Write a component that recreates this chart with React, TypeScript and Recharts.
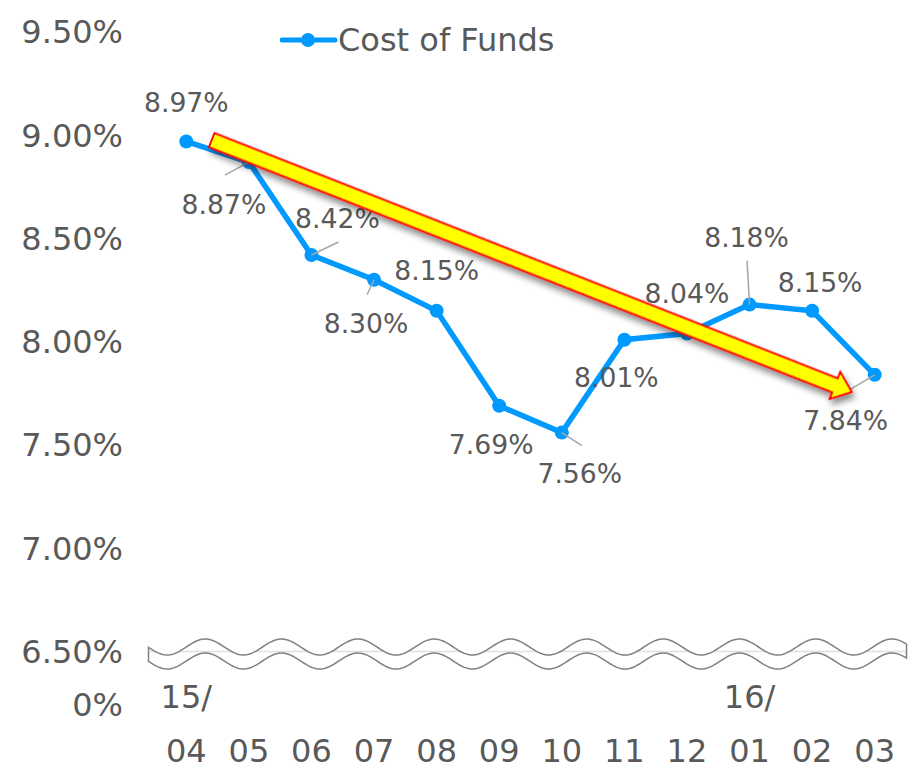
import React from 'react';
import { LineChart, Line, XAxis, YAxis, ReferenceLine, Legend } from 'recharts';

// ---------- data ----------
const months = ['04', '05', '06', '07', '08', '09', '10', '11', '12', '01', '02', '03'];
const yearPrefixes = ['15/', '', '', '', '', '', '', '', '', '16/', '', ''];
const costOfFunds = [8.97, 8.87, 8.42, 8.30, 8.15, 7.69, 7.56, 8.01, 8.04, 8.18, 8.15, 7.84];
const seriesName = 'Cost of Funds';
// broken axis: lowest tick stands for 0% below the break
const yTickValues = [6.241, 6.5, 7.0, 7.5, 8.0, 8.5, 9.0, 9.5];
const yTickLabels = ['0%', '6.50%', '7.00%', '7.50%', '8.00%', '8.50%', '9.00%', '9.50%'];
const breakValue = 6.5;
// trend arrow endpoints (value at first / last category)
const trendStartValue = 9.025;
const trendEndValue = 7.713;

// ---------- layout / style ----------
const LINE_COLOR = '#0099FF';
const TEXT_COLOR = '#595959';
const FONT = '"DejaVu Sans", Verdana, sans-serif';
const X_PAD = 31.3;
const labelOffsets: [number, number][] = [
  [0, -39], [-25, 42], [26, -37], [-8, 43], [0, -40], [-8, 39],
  [18, 41], [-8, 38], [0, -40], [-3, -67], [8, -28], [-29, 45],
];
const leaderEnds: ([number, number] | null)[] = [
  null, [-24, 13], [27, -13], [-7, 15], null, null,
  [20, 13], null, null, [-2.5, -44], null, [-27, 16],
];

const data = months.map((m, i) => ({ month: m, cof: costOfFunds[i] }));

const renderDot = (props: any) => {
  const { cx, cy, index, payload } = props;
  if (cx == null || cy == null) return <g key={`d${index}`} />;
  const [dx, dy] = labelOffsets[index];
  const leader = leaderEnds[index];
  return (
    <g key={`d${index}`}>
      <circle cx={cx} cy={cy} r={7} fill={LINE_COLOR} />
      {leader && (
        <line x1={cx} y1={cy} x2={cx + leader[0]} y2={cy + leader[1]} stroke="#A6A6A6" strokeWidth={1.5} />
      )}
      <text
        x={cx + dx}
        y={cy + dy}
        dy="0.364em"
        textAnchor="middle"
        fontSize={26.67}
        fontFamily={FONT}
        fill={TEXT_COLOR}
      >
        {payload.cof.toFixed(2) + '%'}
      </text>
    </g>
  );
};

const XTick = (props: any) => {
  const { x, y, payload } = props;
  const idx = months.indexOf(payload.value);
  const prefix = yearPrefixes[idx];
  return (
    <g>
      {prefix ? (
        <text x={x} y={y + 3} textAnchor="middle" fontSize={32} fontFamily={FONT} fill={TEXT_COLOR}>
          {prefix}
        </text>
      ) : null}
      <text x={x} y={y + 56.5} textAnchor="middle" fontSize={32} fontFamily={FONT} fill={TEXT_COLOR}>
        {payload.value}
      </text>
    </g>
  );
};

const ArrowShape = (props: any) => {
  const { x1, y1, x2, y2 } = props;
  if ([x1, y1, x2, y2].some((v) => v == null || isNaN(v))) return <g />;
  const t0 = 0.037;
  const t1 = 0.9666;
  const sx = x1 + (x2 - x1) * t0;
  const sy = y1 + (y2 - y1) * t0;
  const ex = x1 + (x2 - x1) * t1;
  const ey = y1 + (y2 - y1) * t1;
  const len = Math.hypot(ex - sx, ey - sy);
  const deg = (Math.atan2(ey - sy, ex - sx) * 180) / Math.PI;
  const sw = 7.5;
  const hw = 14.5;
  const hl = 18;
  const d = `M0,${-sw} L${len - hl},${-sw} L${len - hl},${-hw} L${len},0 L${len - hl},${hw} L${len - hl},${sw} L0,${sw} Z`;
  return (
    <g>
      <defs>
        <filter id="arrowShadow" x="-10%" y="-50%" width="120%" height="200%">
          <feDropShadow dx="4" dy="4" stdDeviation="3" floodColor="#000" floodOpacity="0.45" />
        </filter>
      </defs>
      <path
        d={d}
        transform={`translate(${sx},${sy}) rotate(${deg})`}
        fill="#FFFF00"
        stroke="#FF0000"
        strokeWidth={2}
        strokeLinejoin="miter"
        filter="url(#arrowShadow)"
      />
    </g>
  );
};

const WaveShape = (props: any) => {
  const { x1, x2, y1 } = props;
  if ([x1, x2, y1].some((v) => v == null || isNaN(v))) return <g />;
  const plotLeft = Math.min(x1, x2);
  const plotRight = Math.max(x1, x2);
  const left = plotLeft - 6.5;
  const right = plotRight + 0.5;
  const period = 76.3;
  const peakX = plotLeft + 50.3;
  const amp = 8;
  const top = (x: number) => y1 - 4.5 - amp * Math.cos((2 * Math.PI * (x - peakX)) / period);
  const gap = 14;
  const pts: string[] = [];
  for (let x = left; x <= right + 0.01; x += 2) pts.push(`${x.toFixed(1)},${top(x).toFixed(1)}`);
  pts.push(`${right.toFixed(1)},${top(right).toFixed(1)}`);
  const bottom: string[] = [];
  bottom.push(`${right.toFixed(1)},${(top(right) + gap).toFixed(1)}`);
  for (let x = right; x >= left - 0.01; x -= 2) bottom.push(`${x.toFixed(1)},${(top(x) + gap).toFixed(1)}`);
  bottom.push(`${left.toFixed(1)},${(top(left) + gap).toFixed(1)}`);
  const d = `M${pts.join(' L')} L${bottom.join(' L')} Z`;
  return (
    <g>
      <defs>
        <clipPath id="waveClip">
          <path d={d} />
        </clipPath>
      </defs>
      <path d={d} fill="#FFFFFF" stroke="none" />
      <line x1={left} x2={right} y1={y1} y2={y1} stroke="#E0E0E0" strokeWidth={1.5} clipPath="url(#waveClip)" />
      <path d={d} fill="none" stroke="#808080" strokeWidth={1.5} />
    </g>
  );
};

const renderLegend = () => (
  <div style={{ display: 'flex', alignItems: 'center', height: 40 }}>
    <svg width={58} height={20} style={{ display: 'block' }}>
      <line x1={2} y1={10} x2={55} y2={10} stroke={LINE_COLOR} strokeWidth={5} strokeLinecap="round" />
      <circle cx={28} cy={10} r={7} fill={LINE_COLOR} />
    </svg>
    <span style={{ fontSize: 32, lineHeight: '40px', color: TEXT_COLOR, fontFamily: FONT, whiteSpace: 'nowrap' }}>
      {seriesName}
    </span>
  </div>
);

export default function App() {
  return (
    <div style={{ position: 'absolute', left: 0, top: 0, background: '#fff' }}>
      <LineChart width={914} height={771} data={data} margin={{ top: 32, right: 8, bottom: 0, left: 35 }}>
        <XAxis
          dataKey="month"
          height={66}
          axisLine={false}
          tickLine={false}
          tickSize={0}
          tickMargin={0}
          interval={0}
          padding={{ left: X_PAD, right: X_PAD }}
          tick={<XTick />}
        />
        <YAxis
          type="number"
          domain={[yTickValues[0], yTickValues[yTickValues.length - 1]]}
          ticks={yTickValues}
          tickFormatter={(v: number) => yTickLabels[yTickValues.indexOf(v)]}
          width={120}
          axisLine={false}
          tickLine={false}
          tickSize={0}
          tickMargin={32}
          interval={0}
          tick={{ fontSize: 32, fill: TEXT_COLOR, fontFamily: FONT }}
          allowDataOverflow
        />
        <ReferenceLine y={breakValue} shape={<WaveShape />} />
        <Legend
          layout="horizontal"
          verticalAlign="middle"
          align="center"
          content={renderLegend}
          wrapperStyle={{ left: 280, top: 20, width: 320, height: 40 }}
        />
        <Line
          type="linear"
          dataKey="cof"
          name={seriesName}
          stroke={LINE_COLOR}
          strokeWidth={5.5}
          dot={renderDot}
          activeDot={false}
          isAnimationActive={false}
        />
        <ReferenceLine
          segment={[
            { x: months[0], y: trendStartValue },
            { x: months[months.length - 1], y: trendEndValue },
          ]}
          shape={<ArrowShape />}
          ifOverflow="visible"
          {...({ zIndex: 1500 } as any)}
        />
      </LineChart>
    </div>
  );
}
